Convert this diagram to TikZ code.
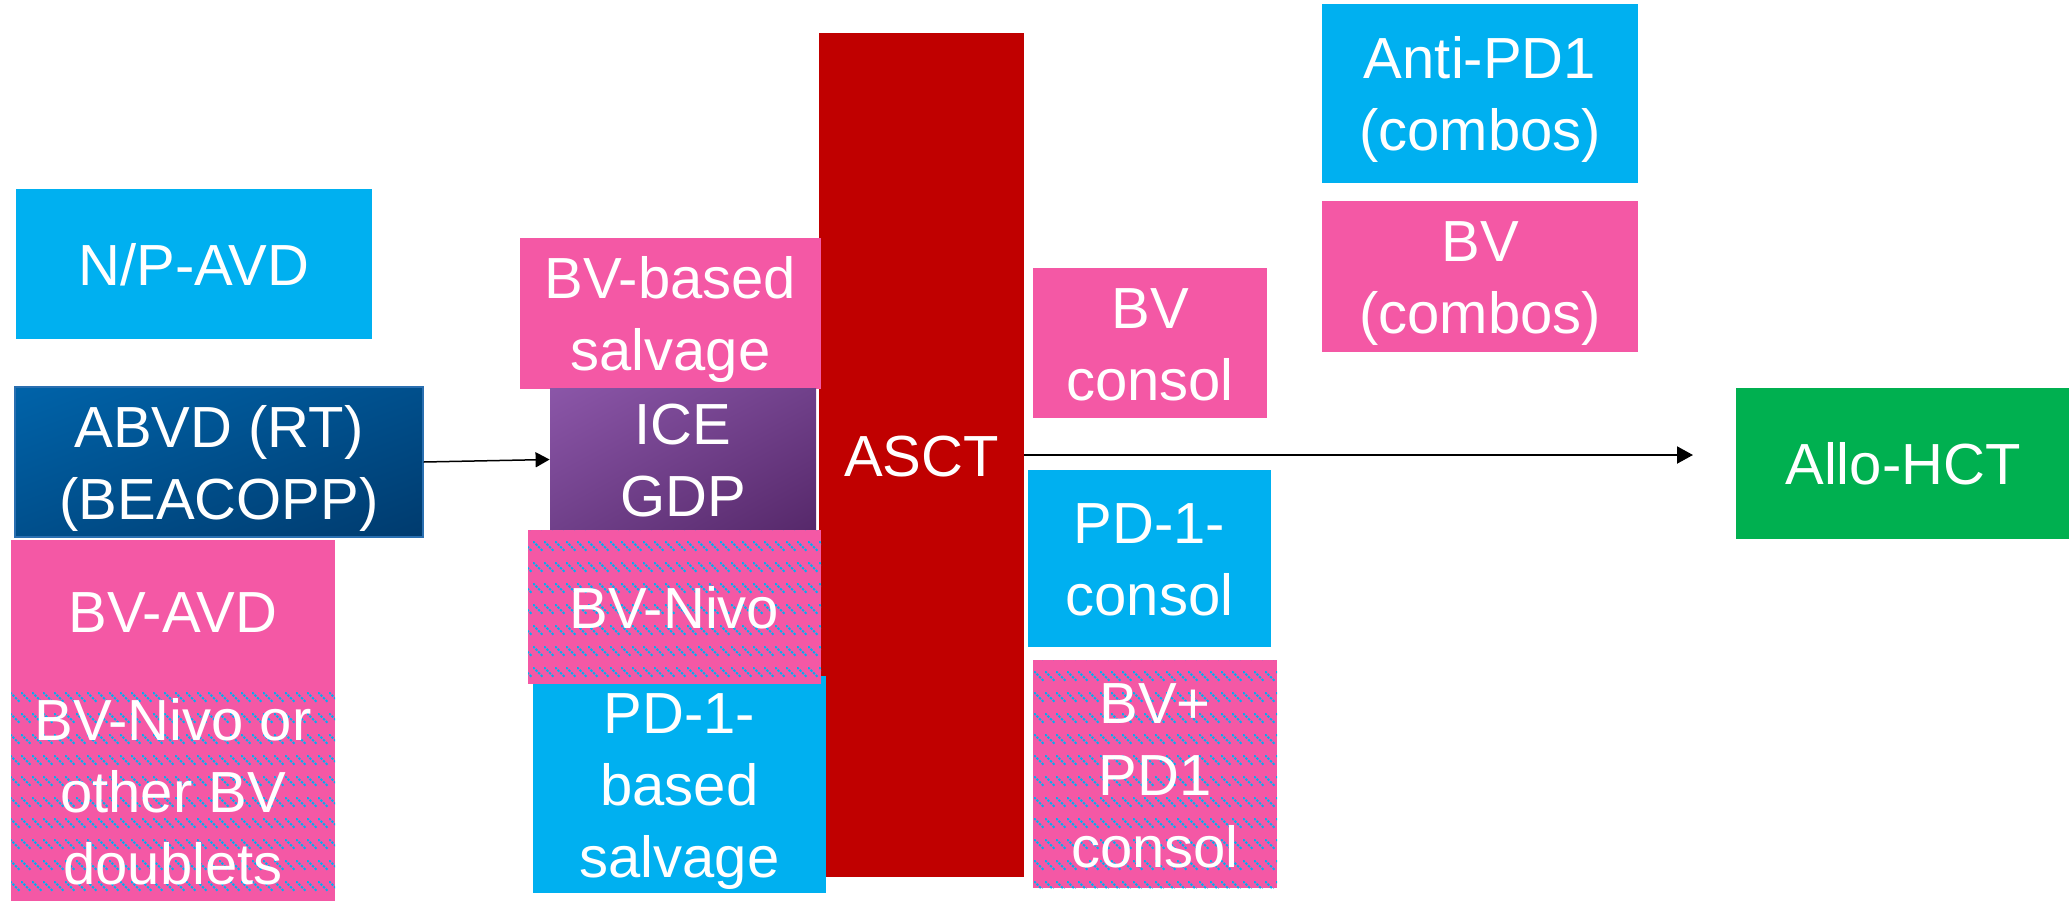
\documentclass[tikz,border=0pt]{standalone}
\usepackage{fontspec}
\setmainfont{Liberation Sans}
\usetikzlibrary{arrows.meta,patterns,shadings}
\definecolor{cyanc}{HTML}{00B0F0}
\definecolor{pinkc}{HTML}{F458A5}
\definecolor{redc}{HTML}{C00000}
\definecolor{greenc}{HTML}{00B050}
\definecolor{blueTL}{HTML}{0063A9}
\definecolor{blueMid}{HTML}{004F8C}
\definecolor{blueBR}{HTML}{003B6E}
\definecolor{blueEdge}{HTML}{2A6FB0}
\definecolor{purTL}{HTML}{8B56A8}
\definecolor{purMid}{HTML}{70408A}
\definecolor{purBR}{HTML}{56286A}
\newcommand\tstr{\rule{0pt}{28.3pt}}
\newcommand\bstr{\rule[-7pt]{0pt}{7pt}}
\pgfdeclarepatternformonly{dashdn}{\pgfpointorigin}{\pgfpoint{5.33pt}{10.67pt}}{\pgfpoint{5.33pt}{10.67pt}}{%
  \pgfsetlinewidth{1pt}%
  \pgfsetdash{{1.2pt}{0.69pt}}{0pt}%
  \pgfpathmoveto{\pgfpoint{0pt}{10.67pt}}%
  \pgfpathlineto{\pgfpoint{5.33pt}{5.33pt}}%
  \pgfusepath{stroke}%
}
\tikzset{
  box/.style={rectangle, inner sep=0pt, text=white, align=center,
    font=\fontsize{29pt}{36pt}\selectfont},
  cyanbox/.style={box, fill=cyanc},
  pinkbox/.style={box, fill=pinkc},
  hatchbox/.style={box, fill=pinkc, postaction={pattern=dashdn, pattern color=cyanc}},
  arr/.style={draw=black, line width=0.75pt, -{Triangle[length=7pt,width=7.5pt]}},
  bigarr/.style={draw=black, line width=1pt, -{Triangle[length=8pt,width=8.5pt]}}
}
\begin{document}
\begin{tikzpicture}[x=0.5pt,y=-0.5pt]
\useasboundingbox (0,0) rectangle (2069,901);
% ASCT column (underneath)
\node[box, fill=redc, minimum width=102.5pt, minimum height=422pt] (asct) at (921.5,455) {\tstr ASCT\bstr};
% left column
\node[cyanbox, minimum width=178pt, minimum height=75pt] (np) at (194,264) {\tstr N/P-AVD\bstr};
\node[box, draw=blueEdge, line width=0.6pt, upper left=blueTL, lower right=blueBR, upper right=blueMid, lower left=blueMid,
  minimum width=204pt, minimum height=75pt] (abvd) at (219,462) {\tstr ABVD (RT)\\(BEACOPP)\bstr};
\node[pinkbox, minimum width=162pt, minimum height=71pt] (bvavd) at (173,611) {\tstr BV-AVD\bstr};
\node[hatchbox, minimum width=162pt, minimum height=109.5pt] (bvdoub) at (173,791.5) {\tstr BV-Nivo or\\other BV\\doublets\bstr};
% salvage column
\node[pinkbox, minimum width=150.5pt, minimum height=75.5pt] (bvsalv) at (670.5,313.5) {\tstr BV-based\\salvage\bstr};
\node[box, upper left=purTL, lower right=purBR, upper right=purMid, lower left=purMid,
  minimum width=133pt, minimum height=70.5pt] (ice) at (683,459.5) {\tstr ICE\\GDP\bstr};
\node[cyanbox, minimum width=146.5pt, minimum height=108.5pt] (pdsalv) at (679.5,784.5) {\tstr PD-1-\\based\\salvage\bstr};
\node[hatchbox, minimum width=146.5pt, minimum height=77pt] (bvnivo) at (674.5,607) {\tstr BV-Nivo\bstr};
% consolidation column
\node[pinkbox, minimum width=117pt, minimum height=75pt] (bvcons) at (1150,343) {\tstr BV\\consol\bstr};
\node[cyanbox, minimum width=121.5pt, minimum height=88.5pt] (pdcons) at (1149.5,558.5) {\tstr PD-1-\\consol\bstr};
\node[hatchbox, minimum width=122pt, minimum height=114pt] (bvpd) at (1155,774) {\tstr BV+\\PD1\\consol\bstr};
% relapse column
\node[cyanbox, minimum width=158pt, minimum height=89.5pt] (antipd) at (1480,93.5) {\tstr Anti-PD1\\(combos)\bstr};
\node[pinkbox, minimum width=158pt, minimum height=75.5pt] (bvcombo) at (1480,276.5) {\tstr BV\\(combos)\bstr};
\node[box, fill=greenc, minimum width=167pt, minimum height=75.5pt] (allo) at (1903,463.5) {\tstr Allo-HCT\bstr};
% connectors
\coordinate (tip) at (1693,455);
\draw[arr] (abvd.east) -- (ice.west);
\draw[bigarr] (asct.east) -- (tip);
\end{tikzpicture}
\end{document}
